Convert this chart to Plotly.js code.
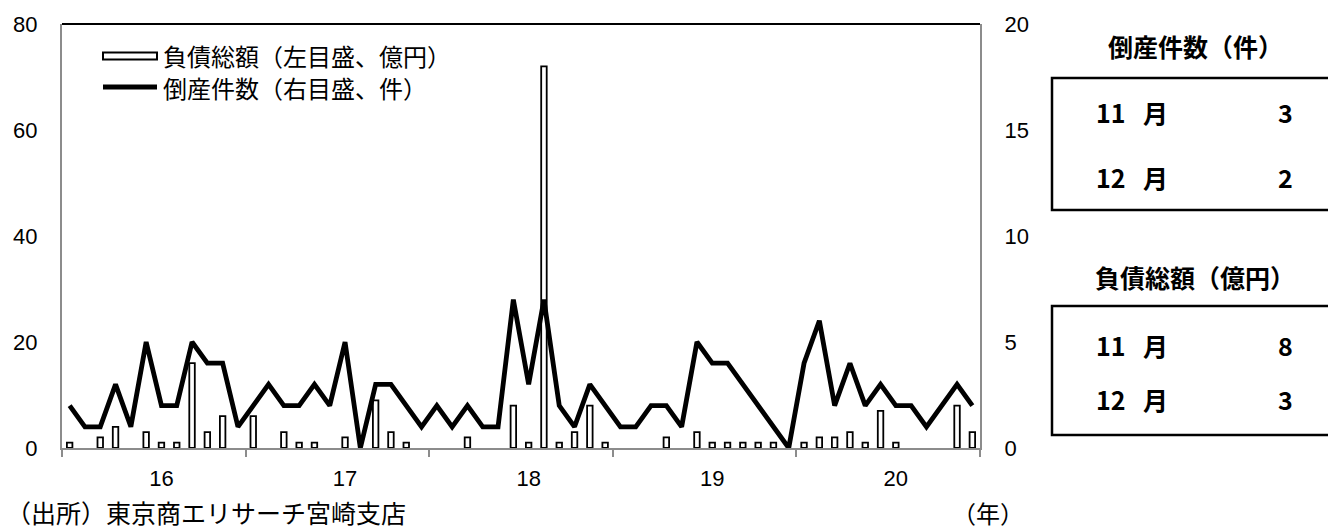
<!DOCTYPE html>
<html>
<head>
<meta charset="utf-8">
<script src="https://cdn.plot.ly/plotly-3.0.1.min.js"></script>
<style>
  html, body { margin: 0; padding: 0; background: #fff; }
  #chart { width: 1328px; height: 532px; }
</style>
</head>
<body>
<div id="chart"></div>
<script>
// Year labels shown under the x axis (one per 12 months, 2016–2020)
const yearLabels = ['16', '17', '18', '19', '20'];

// Monthly bankruptcy counts (right axis, 件), Jan 2016 – Dec 2020
const bankruptcies = [
  2, 1, 1, 3, 1, 5, 2, 2, 5, 4, 4, 1,   // 2016
  2, 3, 2, 2, 3, 2, 5, 0, 3, 3, 2, 1,   // 2017
  2, 1, 2, 1, 1, 7, 3, 7, 2, 1, 3, 2,   // 2018
  1, 1, 2, 2, 1, 5, 4, 4, 3, 2, 1, 0,   // 2019
  4, 6, 2, 4, 2, 3, 2, 2, 1, 2, 3, 2    // 2020
];

// Monthly total liabilities (left axis, 億円), Jan 2016 – Dec 2020
const liabilities = [
  1, 0, 2, 4, 0, 3, 1, 1, 16, 3, 6, 0,  // 2016
  6, 0, 3, 1, 1, 0, 2, 0, 9, 3, 1, 0,   // 2017
  0, 0, 2, 0, 0, 8, 1, 72, 1, 3, 8, 1,  // 2018
  0, 0, 0, 2, 0, 3, 1, 1, 1, 1, 1, 0,   // 2019
  1, 2, 2, 3, 1, 7, 1, 0, 0, 0, 8, 3    // 2020
];

// Side panel: the last two months
const panelMonths = ['11', '12'];

const monthIndex = bankruptcies.map((_, i) => i);
const n = bankruptcies.length;

// plot area in pixels
const W = 1328, H = 532;
const L = 62, R = 980, T = 24, B = 448;
const px = x => (x - L) / (R - L);
const py = y => (B - y) / (B - T);

const jp = '"Noto Sans CJK JP", "Noto Sans", sans-serif';
const num = '"Liberation Sans", Arial, sans-serif';
const axisGray = '#8c8c8c';

const traces = [
  {
    type: 'bar',
    name: '負債総額（左目盛、億円）',
    x: monthIndex,
    y: liabilities.map(v => (v === 0 ? null : v)),
    width: 0.36,
    marker: { color: '#ffffff', line: { color: '#000000', width: 1.8 } },
    yaxis: 'y',
    hoverinfo: 'skip'
  },
  {
    type: 'scatter',
    mode: 'lines',
    name: '倒産件数（右目盛、件）',
    x: monthIndex,
    y: bankruptcies,
    line: { color: '#000000', width: 4.8 },
    yaxis: 'y2',
    hoverinfo: 'skip'
  }
];

const yearBounds = [];
for (let k = 0; k <= yearLabels.length; k++) yearBounds.push(k * 12 - 0.5);

const shapes = [
  // black top edge of the plot frame
  { type: 'line', xref: 'paper', yref: 'paper', x0: 0, x1: 1, y0: 1, y1: 1,
    line: { color: '#000000', width: 2 } },
  // legend keys
  { type: 'rect', xref: 'paper', yref: 'paper',
    x0: px(103), x1: px(157), y0: py(59.5), y1: py(52.5),
    line: { color: '#000000', width: 2 }, fillcolor: '#ffffff' },
  { type: 'line', xref: 'paper', yref: 'paper',
    x0: px(103), x1: px(157), y0: py(87), y1: py(87),
    line: { color: '#000000', width: 4.8 } },
  // side panel boxes
  { type: 'rect', xref: 'paper', yref: 'paper',
    x0: px(1052), x1: px(1345), y0: py(210), y1: py(78),
    line: { color: '#000000', width: 2.5 }, fillcolor: 'rgba(0,0,0,0)' },
  { type: 'rect', xref: 'paper', yref: 'paper',
    x0: px(1052), x1: px(1345), y0: py(435), y1: py(306),
    line: { color: '#000000', width: 2.5 }, fillcolor: 'rgba(0,0,0,0)' }
];

function note(text, x, y, opts) {
  return Object.assign({
    text: text, xref: 'paper', yref: 'paper', x: px(x), y: py(y),
    showarrow: false, xanchor: 'left', yanchor: 'middle',
    font: { family: jp, size: 24, color: '#000000' }
  }, opts || {});
}
const boldFont = { family: jp, size: 25, color: '#000000', weight: 700 };
const monthText = m => m + '\u2002\u2009月';

const annotations = [
  note(traces[0].name, 161, 56),
  note(traces[1].name, 161, 87),
  note('（出所）東京商エリサーチ宮崎支店', 4, 512, { font: { family: jp, size: 25, color: '#000' } }),
  note('（年）', 988, 512, { xanchor: 'center', font: { family: jp, size: 24, color: '#000' } }),

  note('倒産件数（件）', 1195, 46, { xanchor: 'center', font: boldFont }),
  note(monthText(panelMonths[0]), 1094, 112, { font: boldFont }),
  note(String(bankruptcies[n - 2]), 1285, 112, { xanchor: 'center', font: boldFont }),
  note(monthText(panelMonths[1]), 1094, 177, { font: boldFont }),
  note(String(bankruptcies[n - 1]), 1285, 177, { xanchor: 'center', font: boldFont }),

  note('負債総額（億円）', 1195, 277, { xanchor: 'center', font: boldFont }),
  note(monthText(panelMonths[0]), 1094, 345, { font: boldFont }),
  note(String(liabilities[n - 2]), 1285, 345, { xanchor: 'center', font: boldFont }),
  note(monthText(panelMonths[1]), 1094, 399, { font: boldFont }),
  note(String(liabilities[n - 1]), 1285, 399, { xanchor: 'center', font: boldFont })
];

const layout = {
  width: W, height: H,
  margin: { l: L, r: W - R, t: T, b: H - B, pad: 0 },
  paper_bgcolor: '#ffffff',
  plot_bgcolor: '#ffffff',
  showlegend: false,
  xaxis: {
    range: [-0.5, n - 0.5],
    tickmode: 'array',
    tickvals: yearLabels.map((_, k) => k * 12 + 6),
    ticktext: yearLabels,
    ticks: '',
    ticklabelstandoff: 10,
    tickfont: { family: num, size: 22, color: '#000' },
    showline: true, linecolor: axisGray, linewidth: 2,
    showgrid: false, zeroline: false, fixedrange: true,
    minor: { tickmode: 'array', tickvals: yearBounds, ticks: 'outside',
             ticklen: 7, tickwidth: 2, tickcolor: axisGray, showgrid: false }
  },
  yaxis: {
    range: [0, 80],
    tickmode: 'array', tickvals: [0, 20, 40, 60, 80],
    ticks: '', ticklabelstandoff: 18,
    tickfont: { family: num, size: 22, color: '#000' },
    showline: true, linecolor: axisGray, linewidth: 2,
    showgrid: false, zeroline: false, fixedrange: true
  },
  yaxis2: {
    overlaying: 'y', side: 'right',
    range: [0, 20],
    tickmode: 'array', tickvals: [0, 5, 10, 15, 20],
    ticks: '', ticklabelstandoff: 18,
    tickfont: { family: num, size: 22, color: '#000' },
    showline: true, linecolor: axisGray, linewidth: 2,
    showgrid: false, zeroline: false, fixedrange: true
  },
  shapes: shapes,
  annotations: annotations
};

Plotly.newPlot('chart', traces, layout, { staticPlot: true, displayModeBar: false });
</script>
</body>
</html>
